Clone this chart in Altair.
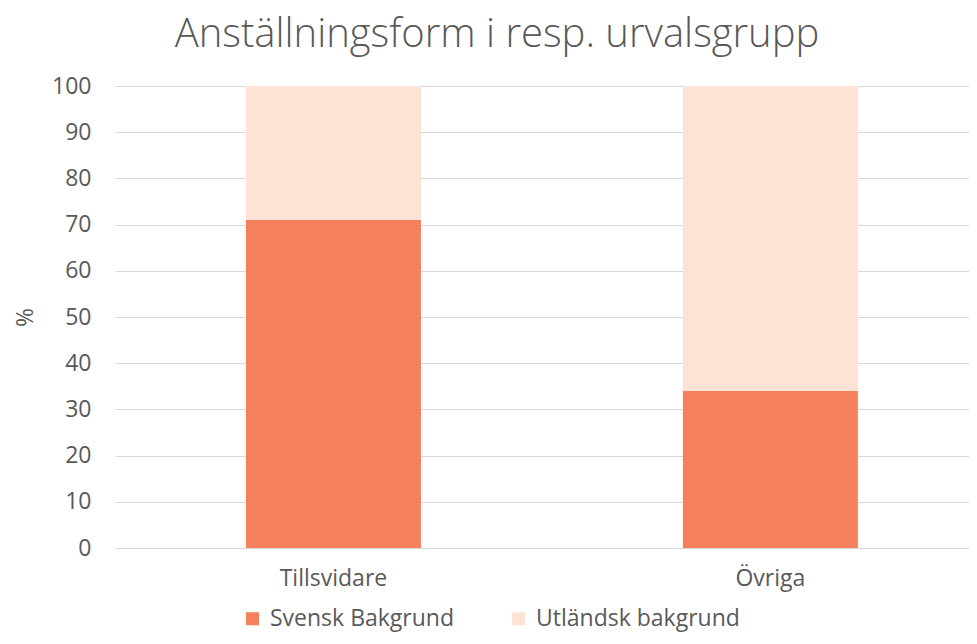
import altair as alt
import pandas as pd

categories = ["Tillsvidare", "Övriga"]
series = ["Svensk Bakgrund", "Utländsk bakgrund"]
svensk = [71, 34]
utlandsk = [29, 66]
colors = ["#F4805C", "#FDE3D6"]

rows = []
for i, c in enumerate(categories):
    rows.append({"kategori": c, "grupp": series[0], "varde": svensk[i], "ordning": 0})
    rows.append({"kategori": c, "grupp": series[1], "varde": utlandsk[i], "ordning": 1})
df = pd.DataFrame(rows)

FONT = "Open Sans"
GRAY = "#595959"

chart = alt.Chart(df).mark_bar().encode(
    x=alt.X("kategori:N", sort=categories, title=None,
            scale=alt.Scale(paddingInner=0.5995, paddingOuter=0.277, align=0.541),
            axis=alt.Axis(labelAngle=0, labelFontSize=23, labelColor=GRAY, labelFont=FONT,
                          ticks=False, domain=True, domainColor="#d9d9d9", labelPadding=19)),
    y=alt.Y("varde:Q", stack="zero", title="%",
            scale=alt.Scale(domain=[0, 100]),
            axis=alt.Axis(values=list(range(0, 101, 10)), labelFontSize=23, labelColor=GRAY,
                          labelFont=FONT, ticks=False, domain=False, gridColor="#d9d9d9",
                          labelPadding=24, titleFont=FONT, titleFontSize=23, titleColor=GRAY,
                          titleFontWeight="normal", titlePadding=14)),
    color=alt.Color("grupp:N", sort=series, scale=alt.Scale(domain=series, range=colors),
                    legend=alt.Legend(title=None, orient="none", direction="horizontal",
                                      legendX=126, legendY=521, symbolType="square",
                                      symbolSize=170, symbolStrokeWidth=0, labelFontSize=23,
                                      labelFont=FONT, labelColor=GRAY, columnPadding=52,
                                      symbolOffset=0, labelOffset=6, labelLimit=400)),
    order=alt.Order("ordning:Q"),
).properties(
    width=854, height=462,
    title=alt.TitleParams("Anställningsform i resp. urvalsgrupp", fontSize=40, font=FONT,
                          fontWeight=300, color=GRAY, anchor="middle", dx=-45, offset=20),
    autosize=alt.AutoSizeParams(type="none"),
    padding={"left": 107, "top": 78, "right": 0, "bottom": 88},
).configure_view(stroke=None)

chart.save("out.html", embed_options={"renderer": "svg", "actions": False})
